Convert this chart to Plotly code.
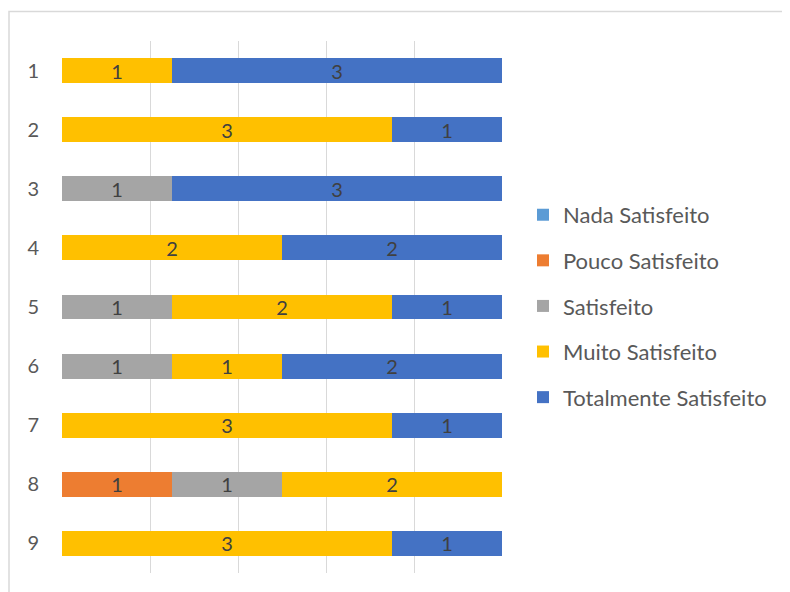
import plotly.graph_objects as go

categories = ["1", "2", "3", "4", "5", "6", "7", "8", "9"]
series_names = ["Nada Satisfeito", "Pouco Satisfeito", "Satisfeito", "Muito Satisfeito", "Totalmente Satisfeito"]
nada = [0, 0, 0, 0, 0, 0, 0, 0, 0]
pouco = [0, 0, 0, 0, 0, 0, 0, 1, 0]
satisfeito = [0, 0, 1, 0, 1, 1, 0, 1, 0]
muito = [1, 3, 0, 2, 2, 1, 3, 2, 3]
totalmente = [3, 1, 3, 2, 1, 2, 1, 0, 1]
colors = ["#5B9BD5", "#ED7D31", "#A5A5A5", "#FFC000", "#4472C4"]

FONT = "Lato"
fig = go.Figure()
for i, (name, vals, col) in enumerate(zip(series_names, [nada, pouco, satisfeito, muito, totalmente], colors)):
    fig.add_trace(go.Bar(
        y=categories, x=vals, name=name, orientation="h",
        marker=dict(color=col, line=dict(width=0)),
        text=[str(v) if v else "" for v in vals],
        textposition="inside", insidetextanchor="middle", textangle=0,
        constraintext="none",
        textfont=dict(color="#404040", size=20, family=FONT),
        width=0.42, legendgroup=f"g{i}",
        hoverinfo="x+y+name",
    ))

# page body has an 8px margin, so figure coordinates are page coordinates minus 8
L, T, PW, PH = 54, 33, 440, 532
fig.update_layout(
    barmode="stack",
    width=790, height=592,
    margin=dict(l=L, r=790 - L - PW, t=T, b=592 - T - PH),
    paper_bgcolor="white", plot_bgcolor="white",
    font=dict(family=FONT, color="#595959", size=20),
    showlegend=True,
    legend=dict(x=1.0477, xanchor="left", xref="paper", y=0.502, yanchor="middle",
                font=dict(size=22, color="#595959", family=FONT),
                tracegroupgap=14, traceorder="grouped", itemwidth=30,
                bgcolor="rgba(0,0,0,0)"),
    xaxis=dict(range=[0, 4], tickmode="array", tickvals=[0, 0.8, 1.6, 2.4, 3.2, 4.0],
               showticklabels=False, showgrid=True, gridcolor="#D9D9D9", gridwidth=1.3,
               zeroline=False, showline=False, fixedrange=True),
    yaxis=dict(autorange="reversed", showgrid=False, showline=False, zeroline=False,
               ticks="", tickfont=dict(size=20, color="#595959", family=FONT), ticklabelstandoff=22),
    shapes=[dict(type="rect", xref="paper", yref="paper",
                 x0=(1 - L) / PW, x1=(800 - L) / PW,
                 y0=-0.2, y1=(T + PH - 3.5) / PH,
                 line=dict(color="#D9D9D9", width=1.5), fillcolor="rgba(0,0,0,0)", layer="below")],
)
fig.write_html("out.html")
